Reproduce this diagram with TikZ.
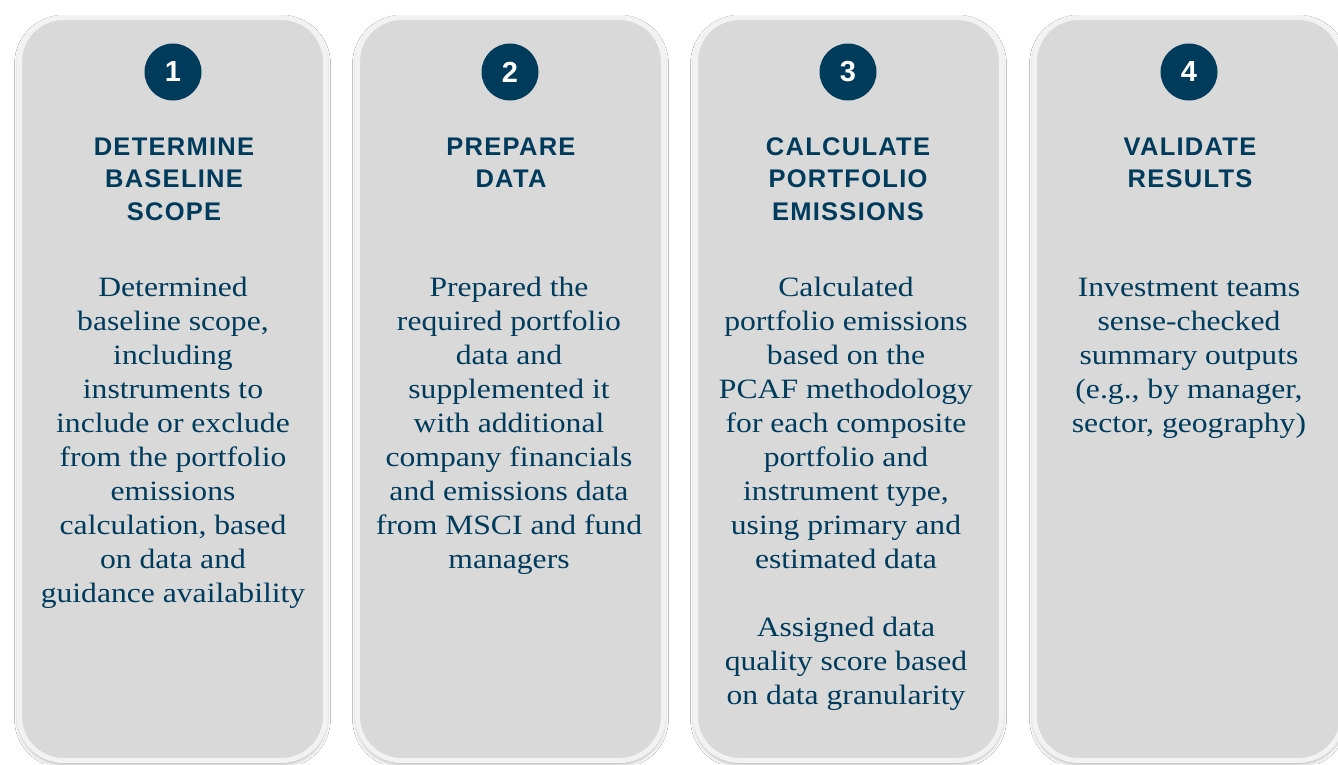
\documentclass[tikz,border=0pt]{standalone}
\usepackage{fontspec}
\setmainfont{Liberation Serif}
\newfontfamily\bodyfont[FakeStretch=1.13]{Liberation Serif}
\newfontfamily\titlefont[LetterSpace=5]{Liberation Sans}
\newfontfamily\numfont{Liberation Sans}
\usetikzlibrary{shadows.blur}
\definecolor{navy}{HTML}{003B5C}
\definecolor{boxgray}{HTML}{D9D9D9}
\definecolor{rimgray}{HTML}{F2F2F2}
\tikzset{
  card/.style={rectangle, draw=rimgray, line width=5pt, fill=boxgray,
    rounded corners=44pt, minimum width=306pt, minimum height=743pt, inner sep=0pt,
    blur shadow={shadow xshift=0pt, shadow yshift=-2.5pt, shadow blur radius=5pt, shadow opacity=45}},
  numcirc/.style={circle, fill=navy, minimum size=57pt, inner sep=0pt, text=white,
    font=\numfont\bfseries\fontsize{29}{29}\selectfont},
  steptitle/.style={anchor=north, align=center, inner sep=0pt, text=navy,
    font=\titlefont\bfseries\fontsize{25.5}{32.5}\selectfont},
  stepbody/.style={anchor=north, align=center, inner sep=0pt, text=navy,
    font=\bodyfont\fontsize{28}{34}\selectfont},
}
\newcommand{\fl}{\rule{0pt}{20pt}}
\begin{document}
\begin{tikzpicture}[x=1pt,y=-1pt]
\useasboundingbox (0,0) rectangle (1338,764);
\fill[white] (0,0) rectangle (1338,764);
% cards
\node[card] (b1) at (172.5,389) {};
\node[card] (b2) at (510.5,389) {};
\node[card] (b3) at (848.5,389) {};
\node[card, minimum width=308pt] (b4) at (1188.5,389) {};
% numbers
\node[numcirc] (n1) at (173,72) {1};
\node[numcirc] (n2) at (510,72) {2};
\node[numcirc] (n3) at (848,72) {3};
\node[numcirc] (n4) at (1189,72) {4};
% titles
\node[steptitle] (t1) at (174,135) {\fl DETERMINE\\BASELINE\\SCOPE};
\node[steptitle] (t2) at (511,135) {\fl PREPARE\\DATA};
\node[steptitle] (t3) at (848,135) {\fl CALCULATE\\PORTFOLIO\\EMISSIONS};
\node[steptitle] (t4) at (1190,135) {\fl VALIDATE\\RESULTS};
% bodies
\node[stepbody] (d1) at (173,276.5) {\fl Determined\\baseline scope,\\including\\instruments to\\include or exclude\\from the portfolio\\emissions\\calculation, based\\on data and\\guidance availability};
\node[stepbody] (d2) at (509,276.5) {\fl Prepared the\\required portfolio\\data and\\supplemented it\\with additional\\company financials\\and emissions data\\from MSCI and fund\\managers};
\node[stepbody] (d3) at (846,276.5) {\fl Calculated\\portfolio emissions\\based on the\\PCAF methodology\\for each composite\\portfolio and\\instrument type,\\using primary and\\estimated data};
\node[stepbody] (d3b) at (846,616.5) {\fl Assigned data\\quality score based\\on data granularity};
\node[stepbody] (d4) at (1189,276.5) {\fl Investment teams\\sense-checked\\summary outputs\\(e.g., by manager,\\sector, geography)};
\end{tikzpicture}
\end{document}
